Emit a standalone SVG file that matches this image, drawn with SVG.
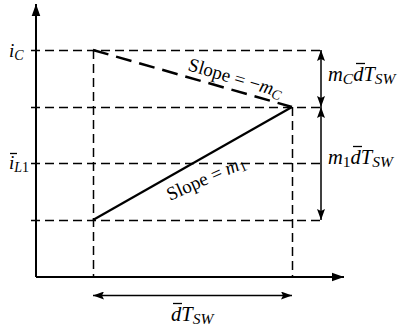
<svg xmlns="http://www.w3.org/2000/svg" width="399" height="328" viewBox="0 0 399 328">
<style>
.ax{stroke:#000;stroke-width:2;fill:none}
.dh{stroke:#000;stroke-width:1.5;fill:none;stroke-dasharray:9 5}
.dim{stroke:#000;stroke-width:1.5;fill:none}
.t{font-family:"Liberation Serif","Times New Roman",serif;font-size:19px;fill:#000}
.r{font-size:20.5px}
.i{font-style:italic}
.bar{stroke:#000;stroke-width:1.3}
</style>
<defs>
<marker id="big" markerUnits="userSpaceOnUse" markerWidth="12" markerHeight="16" refX="14" refY="5" orient="auto" viewBox="0 0 14 10">
<path d="M0,0 L14,5 L0,10 z" fill="#000"/>
</marker>
<marker id="sm" markerUnits="userSpaceOnUse" markerWidth="11" markerHeight="8" refX="11" refY="4" orient="auto-start-reverse" viewBox="0 0 11 8">
<path d="M0,0 L11,4 L0,8 L2,4 z" fill="#000"/>
</marker>
</defs>
<g id="connectors">
<line class="ax" x1="36" y1="277" x2="36" y2="4" marker-end="url(#big)"/>
<line class="ax" x1="36" y1="277" x2="344" y2="277" marker-end="url(#big)"/>
<line class="dh" x1="31" y1="50.5" x2="320" y2="50.5"/>
<line class="dh" x1="31" y1="107.5" x2="320" y2="107.5"/>
<line class="dh" x1="31" y1="163.5" x2="320" y2="163.5"/>
<line class="dh" x1="31" y1="220.5" x2="320" y2="220.5"/>
<line class="dh" x1="93.5" y1="50" x2="93.5" y2="277"/>
<line class="dh" x1="292.5" y1="107" x2="292.5" y2="277"/>
<line x1="93" y1="50" x2="292" y2="107" stroke="#000" stroke-width="2.5" stroke-dasharray="16 8"/>
<line x1="93" y1="220" x2="292" y2="107" stroke="#000" stroke-width="2.2"/>
<line class="dim" x1="321" y1="50" x2="321" y2="107" marker-start="url(#sm)" marker-end="url(#sm)"/>
<line class="dim" x1="321" y1="107" x2="321" y2="220" marker-start="url(#sm)" marker-end="url(#sm)"/>
<line class="dim" x1="93" y1="295.5" x2="292" y2="295.5" marker-start="url(#sm)" marker-end="url(#sm)"/>
</g>
<g id="label-iC">
<text class="t i" x="9" y="57">i<tspan font-size="14" dy="3">C</tspan></text>
</g>
<g id="label-iL1">
<text class="t i" x="9" y="169">i<tspan font-size="14" dy="3">L</tspan><tspan font-size="14" font-style="normal">1</tspan></text>
<line class="bar" x1="10" y1="153.5" x2="17" y2="153.5"/>
</g>
<g id="label-slopeC">
<text class="t" transform="translate(187,70) rotate(16.5)">Slope = −<tspan class="i">m</tspan><tspan class="i" font-size="14" dy="3">C</tspan></text>
</g>
<g id="label-slope1">
<text class="t" transform="translate(170,201) rotate(-24)">Slope = <tspan class="i">m</tspan><tspan font-size="14" dy="3">1</tspan></text>
</g>
<g id="label-mC">
<text class="t r i" x="328" y="81">m<tspan font-size="15.5" dy="3">C</tspan><tspan dy="-3">d</tspan>T<tspan font-size="15.5" dy="3">SW</tspan></text>
<line class="bar" x1="356" y1="63.5" x2="365" y2="63.5"/>
</g>
<g id="label-m1">
<text class="t r i" x="328" y="164">m<tspan font-size="15.5" dy="3" font-style="normal">1</tspan><tspan dy="-3">d</tspan>T<tspan font-size="15.5" dy="3">SW</tspan></text>
<line class="bar" x1="353" y1="146.5" x2="362" y2="146.5"/>
</g>
<g id="label-dTsw">
<text class="t r i" x="171" y="321">dT<tspan font-size="15.5" dy="3">SW</tspan></text>
<line class="bar" x1="173" y1="303.5" x2="182" y2="303.5"/>
</g>
</svg>
